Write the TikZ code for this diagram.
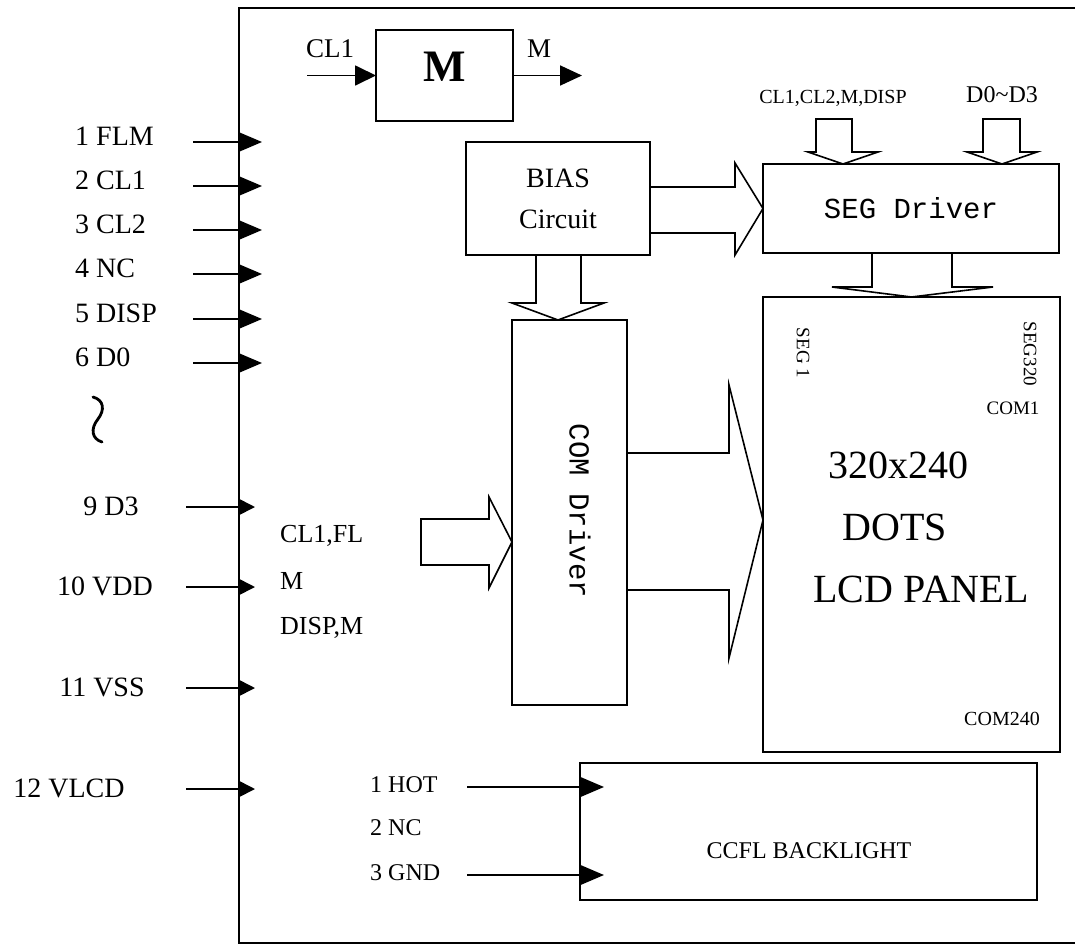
\documentclass[tikz,border=0pt]{standalone}
\usepackage{fontspec}
\setmainfont{Liberation Serif}
\newfontfamily\drvfont{Liberation Mono}
\usetikzlibrary{arrows.meta,positioning,calc}
\newcommand{\fsz}[1]{\fontsize{#1}{#1}\selectfont}

\tikzset{
  blk/.style={draw,line width=1.6pt,inner sep=0pt,outer sep=0pt},
  lbl/.style={inner sep=0pt,font=\fsz{28}},
  small/.style={inner sep=0pt,font=\fsz{20}},
  pinarrow/.style={line width=1.8pt,-{Triangle[length=#1,width=20pt]}},
  pinarrow/.default=24pt,
  hollow/.style={draw,line width=1.6pt,line join=miter},
}

\begin{document}
\begin{tikzpicture}[x=1pt,y=-1pt]
\useasboundingbox (0,0) rectangle (1075,945);
% module outline
\draw[line width=2.2pt] (1075,8) -- (239,8) -- (239,943) -- (1075,943);

% interface pins
\foreach \n/\t/\y in {1/1 FLM/142,2/2 CL1/186,3/3 CL2/230,4/4 NC/274,5/5 DISP/319,6/6 D0/363}{
  \node[lbl,anchor=base west] (pin\n) at (75,\y+3) {\t};
  \coordinate (a\n) at (193,\y);
  \coordinate (b\n) at (262,\y);
  \draw[pinarrow] (a\n) -- (b\n);
}
\foreach \n/\t/\x/\y in {9/9 D3/111/507,10/10 VDD/105/587,11/11 VSS/102/688,12/12 VLCD/69/789}{
  \node[lbl,anchor=base] (pin\n) at (\x,\y+8) {\t};
  \coordinate (a\n) at (186,\y);
  \coordinate (b\n) at (255,\y);
  \draw[line width=1.8pt,-{Triangle[length=17pt,width=17pt]}] (a\n) -- (b\n);
}
\draw[line width=2.8pt,line cap=round] (93,397) .. controls (104,400) and (105,410) .. (98,419)
  .. controls (90,429) and (92,439) .. (102,442);

% M generator
\node[blk,minimum width=137pt,minimum height=91pt] (mbox) at (444.5,75.5) {};
\node[inner sep=0pt,font=\fsz{45}\bfseries] (mlbl) at (445,67) {M};
\coordinate (cl1in) at (307,75.5);
\coordinate (mout) at (582,75.5);
\draw[pinarrow=21pt] (cl1in) -- (mbox.west);
\draw[pinarrow=22pt] (mbox.east) -- (mout);
\node[lbl,font=\fsz{27},anchor=base] (cl1lbl) at (330,57) {CL1};
\node[lbl,font=\fsz{27},anchor=base] (mlbl2) at (539,57) {M};

% bias circuit
\node[blk,minimum width=184pt,minimum height=113pt,align=center,font=\fsz{28},
  text depth=0pt] (bias) at (558,198.5) {BIAS\\[13pt]Circuit};

% segment driver
\node[blk,minimum width=296pt,minimum height=89pt,font=\drvfont\fsz{29}] (seg) at (911,208.5) {SEG Driver};
\node[small,anchor=base] (seglbl) at (833,103) {CL1,CL2,M,DISP};
\node[small,font=\fsz{24},anchor=base] (datlbl) at (1002,102) {D0\textasciitilde D3};

% common driver
\node[blk,minimum width=115pt,minimum height=385pt] (com) at (569.5,512.5) {};
\node[inner sep=0pt,font=\drvfont\fsz{29},rotate=-90] (comlbl) at (580,511) {COM Driver};
\node[lbl,font=\fsz{26},anchor=north west,align=left] (comin) at (280,525)
  {CL1,FL\\[21pt]M\\[19pt]DISP,M};

% LCD panel
\node[blk,minimum width=297pt,minimum height=455pt] (lcd) at (911.5,524.5) {};
\node[inner sep=0pt,font=\fsz{19},rotate=-90] (seg1) at (803,353) {SEG 1};
\node[inner sep=0pt,font=\fsz{19},rotate=-90] (seg320) at (1030,354) {SEG320};
\node[small,font=\fsz{19},anchor=base] (com1) at (1013,414) {COM1};
\node[small,anchor=base] (com240) at (1002,725) {COM240};
\node[inner sep=0pt,font=\fsz{40},anchor=base] (dots1) at (898,478) {320x240};
\node[inner sep=0pt,font=\fsz{40},anchor=base] (dots2) at (895,540) {DOTS};
\node[inner sep=0pt,font=\fsz{40},anchor=base] (dots3) at (921,602) {LCD PANEL};

% backlight
\node[blk,minimum width=457pt,minimum height=137pt] (ccfl) at (808.5,831.5) {};
\node[inner sep=0pt,font=\fsz{24},anchor=base] (ccfllbl) at (809,858) {CCFL BACKLIGHT};
\foreach \n/\t/\y in {1/1 HOT/792,2/2 NC/835,3/3 GND/880}{
  \node[inner sep=0pt,font=\fsz{24},anchor=base west] (bl\n) at (370,\y) {\t};
}
\coordinate (hotin) at (467,787);
\coordinate (hotend) at (604,787);
\coordinate (gndin) at (467,875);
\coordinate (gndend) at (604,875);
\draw[pinarrow] (hotin) -- (hotend);
\draw[pinarrow] (gndin) -- (gndend);

% wide arrows
\draw[hollow] (650,187) -- (735,187) -- (735,163) -- (seg.west) -- (735,255) -- (735,233) -- (650,233);
\draw[hollow] (536,255) -- (536,303) -- (512,303) -- (558,320) -- (604,303) -- (581,303) -- (581,255);
\draw[hollow] (872,253) -- (872,287) -- (832,287) -- (lcd.north) -- (993,287) -- (952,287) -- (952,253);
\draw[hollow] (816,119) -- (816,152) -- (808,152) -- (843,164) -- (878,152) -- (852,152) -- (852,119) -- cycle;
\draw[hollow] (983,119) -- (983,152) -- (967,152) -- (1002,164) -- (1037,152) -- (1020,152) -- (1020,119) -- cycle;
\draw[hollow] (421,519) -- (489,519) -- (489,497) -- (512,542) -- (489,588) -- (489,565) -- (421,565) -- cycle;
\draw[hollow] (627,453) -- (729,453) -- (729,385) -- (763,520) -- (729,658) -- (729,590) -- (627,590);
\end{tikzpicture}
\end{document}
